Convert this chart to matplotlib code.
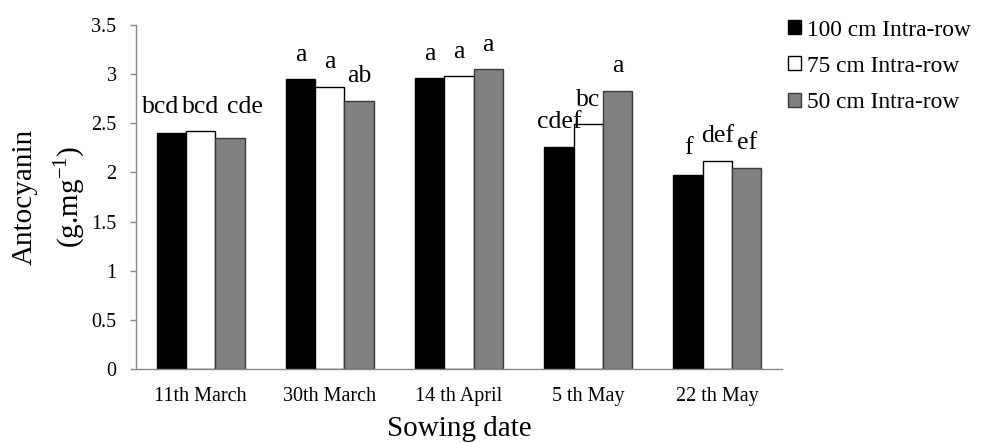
import matplotlib
matplotlib.use("Agg")
import matplotlib.pyplot as plt
from matplotlib.patches import Patch
import numpy as np

plt.rcParams['font.family'] = ['Liberation Serif', 'DejaVu Serif']
plt.rcParams['mathtext.fontset'] = 'custom'
plt.rcParams['mathtext.rm'] = 'Liberation Serif'

categories = ["11th March", "30th March", "14 th April", "5 th May", "22 th May"]
series_names = ["100 cm Intra-row", "75 cm Intra-row", "50 cm Intra-row"]
v100 = [2.40, 2.95, 2.96, 2.26, 1.97]
v75 = [2.42, 2.87, 2.98, 2.49, 2.12]
v50 = [2.35, 2.73, 3.05, 2.83, 2.05]
lab100 = ["bcd", "a", "a", "cdef", "f"]
lab75 = ["bcd", "a", "a", "bc", "def"]
lab50 = ["cde", "ab", "a", "a", "ef"]
yticks = [0, 0.5, 1, 1.5, 2, 2.5, 3, 3.5]
ytick_labels = ["0", "0.5", "1", "1.5", "2", "2.5", "3", "3.5"]

colors = ["#000000", "#ffffff", "#808080"]
edges = ["#000000", "#000000", "#3a3a3a"]

fig = plt.figure(figsize=(9.81, 4.43), dpi=100)
W, H = 981, 443
ax = fig.add_axes([136 / W, 1 - 369 / H, (782 - 136) / W, (369 - 25) / H])

x = np.arange(len(categories))
bw = 0.227
allvals = [v100, v75, v50]
alllabs = [lab100, lab75, lab50]
# small label nudges (points) to keep crowded labels apart
xnudges = [[-8, 0, 0, 0, 0], [0, 0, 0, 0, 0], [11, 0, 0, 0, 0]]
ynudges = [[1, 0, 0, 0, 2], [0, 0, 0, 0, 0], [5, 0, 0, 0, 0]]
for i, (vals, labs) in enumerate(zip(allvals, alllabs)):
    xs = x + (i - 1) * bw
    ax.bar(xs, vals, width=bw, color=colors[i], edgecolor=edges[i], linewidth=1.0,
           label=series_names[i], zorder=2)
    for j, (xx, vv, ll) in enumerate(zip(xs, vals, labs)):
        ax.annotate(ll, (xx, vv), xytext=(xnudges[i][j], 13.3 + ynudges[i][j]),
                    textcoords="offset points", ha="center", va="baseline", fontsize=18.5)

ax.set_xlim(-0.5, len(categories) - 0.5)
ax.set_ylim(0, 3.5)
ax.set_yticks(yticks)
ax.set_yticklabels(ytick_labels)
ax.set_xticks(x)
ax.set_xticklabels(categories)
for s in ["top", "right"]:
    ax.spines[s].set_visible(False)
for s in ["left", "bottom"]:
    ax.spines[s].set_color("#888888")
    ax.spines[s].set_linewidth(1.0)
ax.tick_params(axis="y", length=4, width=1, color="#888888", pad=10, labelsize=14.5)
ax.tick_params(axis="x", length=0, pad=13, labelsize=14.5)

fig.text(31.7 / W, 1 - 197 / H, "Antocyanin", rotation=90, rotation_mode="anchor",
         ha="center", va="baseline", fontsize=21)
fig.text(77.8 / W, 1 - 197 / H, "(g.mg$^{\\mathregular{-1}}$)", rotation=90, rotation_mode="anchor",
         ha="center", va="baseline", fontsize=21)
fig.text(459 / W, 1 - 436 / H, "Sowing date", ha="center", va="baseline", fontsize=21)

handles = [Patch(facecolor=colors[i], edgecolor=edges[i] if i != 0 else "#000000", linewidth=1)
           for i in range(3)]
fig.legend(handles, series_names, loc="upper left", bbox_to_anchor=(788 / W, 1 - 19.5 / H),
           frameon=False, fontsize=16.8, handlelength=0.55, handleheight=0.55,
           handletextpad=0.25, labelspacing=0.65, borderaxespad=0, borderpad=0)

fig.savefig("out.png", dpi=100)
